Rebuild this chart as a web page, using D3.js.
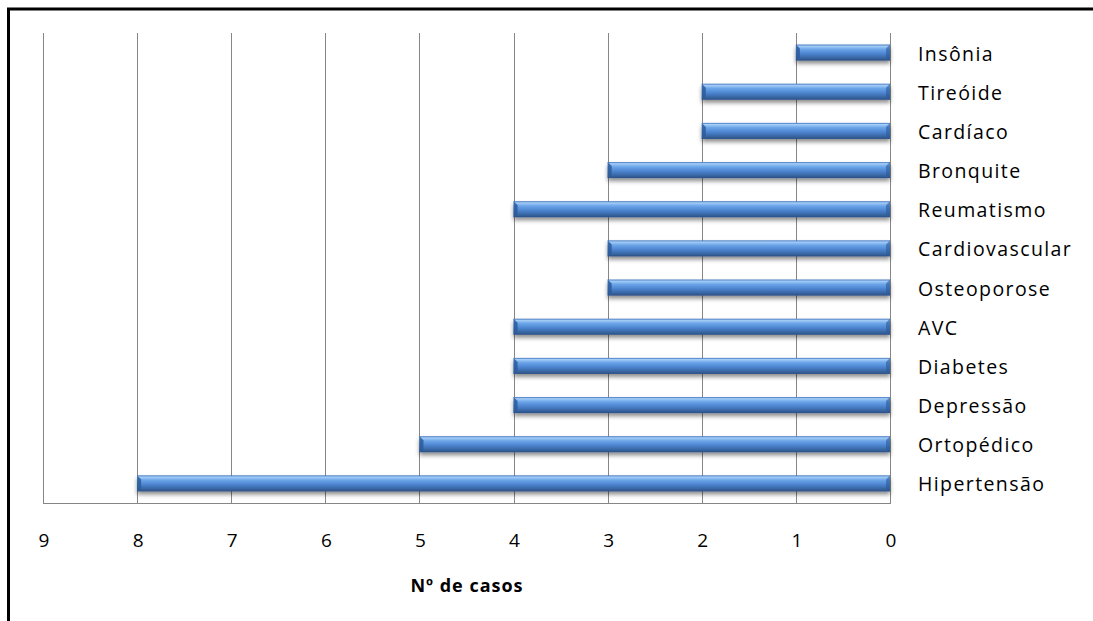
<!DOCTYPE html>
<html>
<head>
<meta charset="utf-8">
<script src="https://cdn.jsdelivr.net/npm/d3@7"></script>
<style>
  html, body { margin: 0; padding: 0; background: #fff; }
  svg { display: block; }
</style>
</head>
<body>
<svg id="chart" width="1093" height="621"></svg>
<script>
// Categories from top to bottom and number of cases for each
const categories = ["Insônia", "Tireóide", "Cardíaco", "Bronquite", "Reumatismo", "Cardiovascular",
  "Osteoporose", "AVC", "Diabetes", "Depressão", "Ortopédico", "Hipertensão"];
const cases = [1, 2, 2, 3, 4, 3, 3, 4, 4, 4, 5, 8];
const tickValues = [9, 8, 7, 6, 5, 4, 3, 2, 1, 0];
const axisTitle = "Nº de casos";

const svg = d3.select("#chart");
const plot = { left: 43, right: 890, top: 33, bottom: 503 };

// Reversed value axis: 9 on the left, 0 on the right
const x = d3.scaleLinear().domain([9, 0]).range([plot.left, plot.right]);
const y = d3.scaleBand().domain(categories).range([plot.top, plot.bottom]).paddingInner(0.59).paddingOuter(0.295);

const defs = svg.append("defs");
const grad = defs.append("linearGradient").attr("id", "barGrad").attr("x1", 0).attr("y1", 0).attr("x2", 0).attr("y2", 1);
[["0%", "#3a6fba"], ["10%", "#a4cdf7"], ["30%", "#6aa4e8"], ["60%", "#4a81cc"], ["85%", "#37649f"], ["100%", "#2a4f85"]]
  .forEach(([o, c]) => grad.append("stop").attr("offset", o).attr("stop-color", c));
const shadow = defs.append("filter").attr("id", "shadow").attr("x", "-5%").attr("y", "-50%").attr("width", "110%").attr("height", "250%");
shadow.append("feDropShadow").attr("dx", 0).attr("dy", 3).attr("stdDeviation", 2.2).attr("flood-color", "#000").attr("flood-opacity", 0.45);

// Outer frame: left and top edges
svg.append("line").attr("x1", 8.5).attr("x2", 8.5).attr("y1", 8).attr("y2", 621).attr("stroke", "#000").attr("stroke-width", 3);
svg.append("line").attr("x1", 7).attr("x2", 1093).attr("y1", 9).attr("y2", 9).attr("stroke", "#000").attr("stroke-width", 3);

// Vertical gridlines
svg.append("g").selectAll("line").data(tickValues).join("line")
  .attr("x1", d => Math.round(x(d)) + 0.5).attr("x2", d => Math.round(x(d)) + 0.5)
  .attr("y1", plot.top).attr("y2", plot.bottom)
  .attr("stroke", "#868686").attr("stroke-width", 1);

// Category axis baseline along the bottom
svg.append("line").attr("x1", plot.left).attr("x2", plot.right + 1)
  .attr("y1", plot.bottom + 0.5).attr("y2", plot.bottom + 0.5)
  .attr("stroke", "#868686").attr("stroke-width", 1);

// Bars grow leftwards from zero
const bars = svg.append("g").selectAll("g").data(categories).join("g");
bars.append("rect")
  .attr("x", (d, i) => x(cases[i]))
  .attr("y", d => y(d))
  .attr("width", (d, i) => x(0) - x(cases[i]))
  .attr("height", y.bandwidth())
  .attr("fill", "url(#barGrad)")
  .attr("filter", "url(#shadow)");
// Bevelled end caps
bars.append("path")
  .attr("d", (d, i) => {
    const x0 = x(cases[i]), y0 = y(d), h = y.bandwidth();
    return `M${x0},${y0} L${x0 + 4},${y0 + 4} L${x0 + 4},${y0 + h - 3} L${x0},${y0 + h} Z`;
  })
  .attr("fill", "#2c5a9a").attr("opacity", 0.85);
bars.append("path")
  .attr("d", d => {
    const x1 = x(0), y0 = y(d), h = y.bandwidth();
    return `M${x1},${y0} L${x1 - 4},${y0 + 4} L${x1 - 4},${y0 + h - 3} L${x1},${y0 + h} Z`;
  })
  .attr("fill", "#2c5a9a").attr("opacity", 0.6);

// Category labels on the right
svg.append("g").selectAll("text").data(categories).join("text")
  .attr("x", 918).attr("y", d => y(d) + y.bandwidth() / 2 + 8)
  .attr("font-family", "'Open Sans', sans-serif").attr("font-size", 19.5)
  .attr("letter-spacing", 1.4)
  .attr("fill", "#000").text(d => d);

// Value tick labels
svg.append("g").selectAll("text").data(tickValues).join("text")
  .attr("x", d => x(d) + 1).attr("y", 547)
  .attr("text-anchor", "middle")
  .attr("font-family", "'Open Sans', sans-serif").attr("font-size", 19)
  .attr("fill", "#000").text(d => d);

// Axis title
svg.append("text").attr("x", 467).attr("y", 592).attr("text-anchor", "middle")
  .attr("font-family", "'Open Sans', sans-serif").attr("font-weight", "bold").attr("font-size", 18)
  .attr("letter-spacing", 1)
  .attr("fill", "#000").text(axisTitle);
</script>
</body>
</html>
